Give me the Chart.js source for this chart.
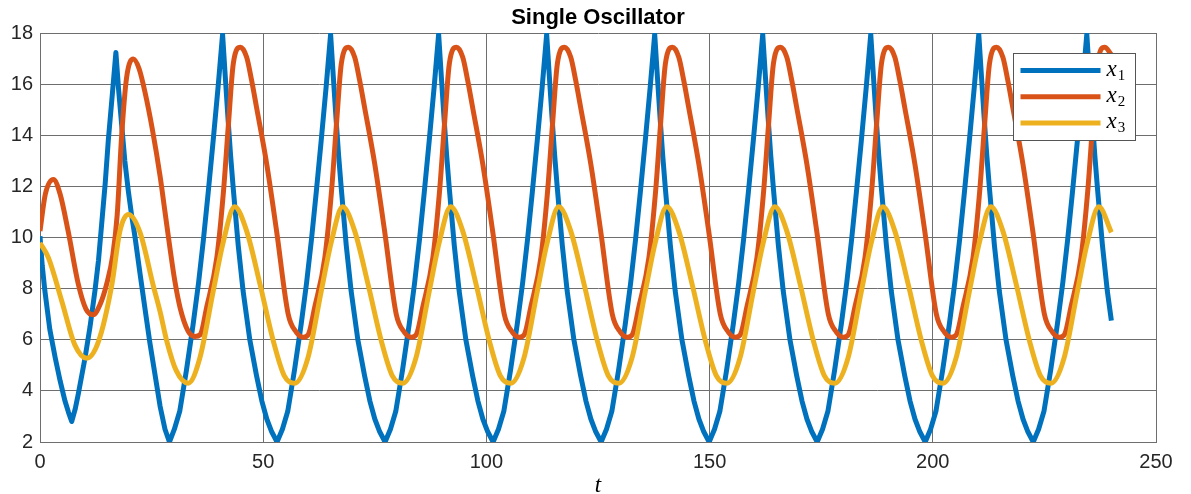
<!DOCTYPE html>
<html>
<head>
<meta charset="utf-8">
<title>Single Oscillator</title>
<script src="https://cdn.jsdelivr.net/npm/chart.js@4.4.1/dist/chart.umd.min.js"></script>
<style>
  html, body { margin: 0; padding: 0; background: #fff; }
  #wrap { width: 1191px; height: 494px; position: relative; }
</style>
</head>
<body>
<div id="wrap"><canvas id="chart-osc"></canvas></div>
<script>
// === Datos: tiempo y concentraciones de cada especie ===
const t1 = [
  0, 0.5, 1.1, 2.2, 3.4, 4.5, 5.6, 6.4, 7.1, 7.9, 8.6, 10.1, 11.2, 12.3, 13.1, 13.8, 14.6, 15.3, 16.2, 17.0,
  17.6, 18.3, 19.0, 19.8, 20.5, 21.3, 22.4, 23.5, 24.6, 25.8, 26.9, 28.0, 29.0,
  30.1, 31.3, 32.8, 34.3, 35.5, 36.6, 37.7, 38.8, 39.9, 40.9, 41.5, 42.1, 42.7, 43.3, 44.4, 45.5, 47.0, 48.5, 49.7, 50.8, 51.9, 53.1,
  54.3, 55.5, 57.0, 58.5, 59.7, 60.8, 61.9, 63.0, 64.1, 65.1, 65.7, 66.3, 66.9, 67.5, 68.6, 69.7, 71.2, 72.7, 73.9, 75.0, 76.1, 77.3,
  78.5, 79.7, 81.2, 82.7, 83.9, 85.0, 86.1, 87.2, 88.3, 89.3, 89.9, 90.5, 91.1, 91.7, 92.8, 93.9, 95.4, 96.9, 98.1, 99.2, 100.3, 101.5,
  102.7, 103.9, 105.4, 106.9, 108.1, 109.2, 110.3, 111.4, 112.5, 113.5, 114.1, 114.7, 115.3, 115.9, 117.0, 118.1, 119.6, 121.1, 122.3, 123.4, 124.5, 125.7,
  126.9, 128.1, 129.6, 131.1, 132.3, 133.4, 134.5, 135.6, 136.7, 137.7, 138.3, 138.9, 139.5, 140.1, 141.2, 142.3, 143.8, 145.3, 146.5, 147.6, 148.7, 149.9,
  151.1, 152.3, 153.8, 155.3, 156.5, 157.6, 158.7, 159.8, 160.9, 161.9, 162.5, 163.1, 163.7, 164.3, 165.4, 166.5, 168.0, 169.5, 170.7, 171.8, 172.9, 174.1,
  175.3, 176.5, 178.0, 179.5, 180.7, 181.8, 182.9, 184.0, 185.1, 186.1, 186.7, 187.3, 187.9, 188.5, 189.6, 190.7, 192.2, 193.7, 194.9, 196.0, 197.1, 198.3,
  199.5, 200.7, 202.2, 203.7, 204.9, 206.0, 207.1, 208.2, 209.3, 210.3, 210.9, 211.5, 212.1, 212.7, 213.8, 214.9, 216.4, 217.9, 219.1, 220.2, 221.3, 222.5,
  223.7, 224.9, 226.4, 227.9, 229.1, 230.2, 231.3, 232.4, 233.5, 234.5, 235.1, 235.7, 236.3, 236.9, 238.0, 239.1, 240.0
];
const x1 = [
  10.05, 8.9, 7.9, 6.4, 5.3, 4.4, 3.6, 3.15, 2.8, 3.3, 3.9, 5.3, 6.5, 7.9, 9.1, 10.5, 12.1, 13.8, 15.6, 17.24,
  15.8, 14.4, 13.0, 11.8, 10.9, 10.0, 8.6, 7.24, 5.9, 4.6, 3.4, 2.5, 2.0,
  2.5, 3.2, 4.8, 6.6, 8.2, 9.9, 11.8, 13.8, 15.9, 17.95, 16.3, 14.7, 13.2, 11.9, 9.7, 7.9, 6.0, 4.6, 3.6, 2.9, 2.4, 2.0,
  2.5, 3.2, 4.8, 6.6, 8.2, 9.9, 11.8, 13.8, 15.9, 17.95, 16.3, 14.7, 13.2, 11.9, 9.7, 7.9, 6.0, 4.6, 3.6, 2.9, 2.4, 2.0,
  2.5, 3.2, 4.8, 6.6, 8.2, 9.9, 11.8, 13.8, 15.9, 17.95, 16.3, 14.7, 13.2, 11.9, 9.7, 7.9, 6.0, 4.6, 3.6, 2.9, 2.4, 2.0,
  2.5, 3.2, 4.8, 6.6, 8.2, 9.9, 11.8, 13.8, 15.9, 17.95, 16.3, 14.7, 13.2, 11.9, 9.7, 7.9, 6.0, 4.6, 3.6, 2.9, 2.4, 2.0,
  2.5, 3.2, 4.8, 6.6, 8.2, 9.9, 11.8, 13.8, 15.9, 17.95, 16.3, 14.7, 13.2, 11.9, 9.7, 7.9, 6.0, 4.6, 3.6, 2.9, 2.4, 2.0,
  2.5, 3.2, 4.8, 6.6, 8.2, 9.9, 11.8, 13.8, 15.9, 17.95, 16.3, 14.7, 13.2, 11.9, 9.7, 7.9, 6.0, 4.6, 3.6, 2.9, 2.4, 2.0,
  2.5, 3.2, 4.8, 6.6, 8.2, 9.9, 11.8, 13.8, 15.9, 17.95, 16.3, 14.7, 13.2, 11.9, 9.7, 7.9, 6.0, 4.6, 3.6, 2.9, 2.4, 2.0,
  2.5, 3.2, 4.8, 6.6, 8.2, 9.9, 11.8, 13.8, 15.9, 17.95, 16.3, 14.7, 13.2, 11.9, 9.7, 7.9, 6.0, 4.6, 3.6, 2.9, 2.4, 2.0,
  2.5, 3.2, 4.8, 6.6, 8.2, 9.9, 11.8, 13.8, 15.9, 17.95, 16.3, 14.7, 13.2, 11.9, 9.7, 7.9, 6.75
];

const t2 = [
  0, 1.2, 3.0, 4.5, 6.3, 8.6, 10.3, 11.9, 13.5, 14.9, 16.3, 17.3, 18.3, 19.4, 20.9, 22.2, 23.5, 25.2, 26.9, 28.0, 29.1, 30.2, 31.4, 33.2, 34.7,
  35.9, 37.3, 39.6, 41.1, 42.2, 43.3, 44.9, 46.3, 47.4, 48.5, 50.8, 53.0, 55.6, 57.4, 59.0,
  60.1, 61.5, 63.8, 65.3, 66.4, 67.5, 69.1, 70.5, 71.6, 72.7, 75.0, 77.2, 79.8, 81.6, 83.2,
  84.3, 85.7, 88.0, 89.5, 90.6, 91.7, 93.3, 94.7, 95.8, 96.9, 99.2, 101.4, 104.0, 105.8, 107.4,
  108.5, 109.9, 112.2, 113.7, 114.8, 115.9, 117.5, 118.9, 120.0, 121.1, 123.4, 125.6, 128.2, 130.0, 131.6,
  132.7, 134.1, 136.4, 137.9, 139.0, 140.1, 141.7, 143.1, 144.2, 145.3, 147.6, 149.8, 152.4, 154.2, 155.8,
  156.9, 158.3, 160.6, 162.1, 163.2, 164.3, 165.9, 167.3, 168.4, 169.5, 171.8, 174.0, 176.6, 178.4, 180.0,
  181.1, 182.5, 184.8, 186.3, 187.4, 188.5, 190.1, 191.5, 192.6, 193.7, 196.0, 198.2, 200.8, 202.6, 204.2,
  205.3, 206.7, 209.0, 210.5, 211.6, 212.7, 214.3, 215.7, 216.8, 217.9, 220.2, 222.4, 225.0, 226.8, 228.4,
  229.5, 230.9, 233.2, 234.7, 235.8, 236.9, 238.5, 240.0
];
const x2 = [
  10.25, 11.7, 12.27, 11.7, 10.25, 8.16, 7.2, 6.98, 7.4, 8.16, 9.3, 10.9, 14.0, 16.26, 16.98, 16.6, 15.7, 14.2, 12.4, 11.0, 9.6, 8.3, 7.24, 6.33, 6.13,
  6.2, 7.24, 9.2, 11.8, 14.4, 16.8, 17.44, 17.05, 16.15, 15.1, 12.86, 10.25, 7.0, 6.3, 6.1,
  6.2, 7.24, 9.2, 11.8, 14.4, 16.8, 17.44, 17.05, 16.15, 15.1, 12.86, 10.25, 7.0, 6.3, 6.1,
  6.2, 7.24, 9.2, 11.8, 14.4, 16.8, 17.44, 17.05, 16.15, 15.1, 12.86, 10.25, 7.0, 6.3, 6.1,
  6.2, 7.24, 9.2, 11.8, 14.4, 16.8, 17.44, 17.05, 16.15, 15.1, 12.86, 10.25, 7.0, 6.3, 6.1,
  6.2, 7.24, 9.2, 11.8, 14.4, 16.8, 17.44, 17.05, 16.15, 15.1, 12.86, 10.25, 7.0, 6.3, 6.1,
  6.2, 7.24, 9.2, 11.8, 14.4, 16.8, 17.44, 17.05, 16.15, 15.1, 12.86, 10.25, 7.0, 6.3, 6.1,
  6.2, 7.24, 9.2, 11.8, 14.4, 16.8, 17.44, 17.05, 16.15, 15.1, 12.86, 10.25, 7.0, 6.3, 6.1,
  6.2, 7.24, 9.2, 11.8, 14.4, 16.8, 17.44, 17.05, 16.15, 15.1, 12.86, 10.25, 7.0, 6.3, 6.1,
  6.2, 7.24, 9.2, 11.8, 14.4, 16.8, 17.44, 17.15
];

const t3 = [
  0, 1.9, 4.9, 7.8, 10.5, 13.1, 16.1, 17.9, 19.8, 22.4, 25.4, 26.9, 28.4, 30.5, 33.2,
  35.8, 38.8, 41.1, 43.6, 46.3, 49.3, 52.3, 54.7, 57.1,
  60.0, 63.0, 65.3, 67.8, 70.5, 73.5, 76.5, 78.9, 81.3,
  84.2, 87.2, 89.5, 92.0, 94.7, 97.7, 100.7, 103.1, 105.5,
  108.4, 111.4, 113.7, 116.2, 118.9, 121.9, 124.9, 127.3, 129.7,
  132.6, 135.6, 137.9, 140.4, 143.1, 146.1, 149.1, 151.5, 153.9,
  156.8, 159.8, 162.1, 164.6, 167.3, 170.3, 173.3, 175.7, 178.1,
  181.0, 184.0, 186.3, 188.8, 191.5, 194.5, 197.5, 199.9, 202.3,
  205.2, 208.2, 210.5, 213.0, 215.7, 218.7, 221.7, 224.1, 226.5,
  229.4, 232.4, 234.7, 237.2, 240.0
];
const x3 = [
  9.79, 9.2, 7.5, 5.8, 5.28, 5.93, 8.16, 10.25, 10.9, 10.2, 8.1, 7.1, 5.95, 4.8, 4.3,
  5.28, 7.9, 9.86, 11.2, 10.25, 8.16, 5.93, 4.6, 4.3,
  5.28, 7.9, 9.86, 11.2, 10.25, 8.16, 5.93, 4.6, 4.3,
  5.28, 7.9, 9.86, 11.2, 10.25, 8.16, 5.93, 4.6, 4.3,
  5.28, 7.9, 9.86, 11.2, 10.25, 8.16, 5.93, 4.6, 4.3,
  5.28, 7.9, 9.86, 11.2, 10.25, 8.16, 5.93, 4.6, 4.3,
  5.28, 7.9, 9.86, 11.2, 10.25, 8.16, 5.93, 4.6, 4.3,
  5.28, 7.9, 9.86, 11.2, 10.25, 8.16, 5.93, 4.6, 4.3,
  5.28, 7.9, 9.86, 11.2, 10.25, 8.16, 5.93, 4.6, 4.3,
  5.28, 7.9, 9.86, 11.2, 10.2
];

const seriesLabels = ["x1", "x2", "x3"];
const seriesColors = ["#0072BD", "#D95319", "#EDB120"];
const tTicks = [0, 50, 100, 150, 200, 250];
const yTicks = [2, 4, 6, 8, 10, 12, 14, 16, 18];

const GRID = "#6e6e6e";
const TICK_FONT = { family: "'Liberation Sans', Arial, sans-serif", size: 20 };

function pares(ts, vs) {
  return ts.map((t, i) => ({ x: t, y: vs[i] }));
}

// leyenda dentro del área de trazado (x con subíndice)
const leyendaInterna = {
  id: "leyendaInterna",
  afterDraw(chart) {
    const ctx = chart.ctx;
    const area = chart.chartArea;
    const w = 122, h = 87;
    const bx = Math.round(area.right - 21 - w) + 0.5;
    const by = Math.round(area.top + 20) + 0.5;

    ctx.save();
    ctx.fillStyle = "#fff";
    ctx.fillRect(bx, by, w, h);
    ctx.strokeStyle = "#555";
    ctx.lineWidth = 1;
    ctx.strokeRect(bx, by, w, h);

    chart.data.datasets.forEach((ds, i) => {
      const y = by + 17 + i * 26.3;
      ctx.strokeStyle = ds.borderColor;
      ctx.lineWidth = 5;
      ctx.lineCap = "butt";
      ctx.beginPath();
      ctx.moveTo(bx + 7, y);
      ctx.lineTo(bx + 87, y);
      ctx.stroke();

      const base = ds.label.charAt(0);
      const sub = ds.label.slice(1);
      ctx.fillStyle = "#000";
      ctx.textBaseline = "alphabetic";
      ctx.textAlign = "left";
      ctx.font = "italic 23px 'Liberation Serif', 'DejaVu Serif', serif";
      const tx = bx + 93;
      ctx.fillText(base, tx, y + 5);
      const bw = ctx.measureText(base).width;
      ctx.font = "15px 'Liberation Serif', 'DejaVu Serif', serif";
      ctx.fillText(sub, tx + bw + 1, y + 9);
    });
    ctx.restore();
  }
};

document.addEventListener("DOMContentLoaded", () => {
  const ctx = document.getElementById("chart-osc").getContext("2d");

  const series = [pares(t1, x1), pares(t2, x2), pares(t3, x3)];

  new Chart(ctx, {
    type: "line",
    data: {
      datasets: series.map((d, i) => ({
        label: seriesLabels[i],
        data: d,
        borderColor: seriesColors[i],
        backgroundColor: seriesColors[i],
        borderWidth: 5,
        pointRadius: 0,
        borderJoinStyle: "round",
        borderCapStyle: "butt",
        tension: 0,
        cubicInterpolationMode: i === 0 ? "default" : "monotone",
        order: 3 - i
      }))
    },
    options: {
      responsive: true,
      maintainAspectRatio: false,
      animation: false,
      layout: { padding: { left: 0, right: 35, top: 0, bottom: 0 } },
      plugins: {
        legend: { display: false },
        tooltip: { enabled: false },
        title: {
          display: true,
          text: "Single Oscillator",
          fullSize: false,
          color: "#000",
          font: { family: "'Liberation Sans', Arial, sans-serif", size: 22, weight: "bold", lineHeight: 1.2 },
          padding: { top: 4.5, bottom: 2.1 }
        }
      },
      scales: {
        x: {
          type: "linear",
          min: 0,
          max: 250,
          afterBuildTicks: s => { s.ticks = tTicks.map(v => ({ value: v })); },
          afterFit: s => { s.height = 52; },
          ticks: { color: "#262626", font: TICK_FONT, padding: 8, maxRotation: 0 },
          grid: { color: GRID, lineWidth: 1, drawTicks: false },
          border: { color: GRID, width: 1 },
          title: {
            display: true,
            text: "t",
            color: "#000",
            font: { family: "'Liberation Serif', 'DejaVu Serif', serif", size: 23, style: "italic", lineHeight: 0.7 },
            padding: { top: 0, bottom: 0 }
          }
        },
        y: {
          min: 2,
          max: 18,
          afterBuildTicks: s => { s.ticks = yTicks.map(v => ({ value: v })); },
          afterFit: s => { s.width = 40; },
          ticks: { color: "#262626", font: TICK_FONT, padding: 7 },
          grid: { color: GRID, lineWidth: 1, drawTicks: false },
          border: { color: GRID, width: 1 }
        }
      }
    },
    plugins: [leyendaInterna]
  });
});
</script>
</body>
</html>
